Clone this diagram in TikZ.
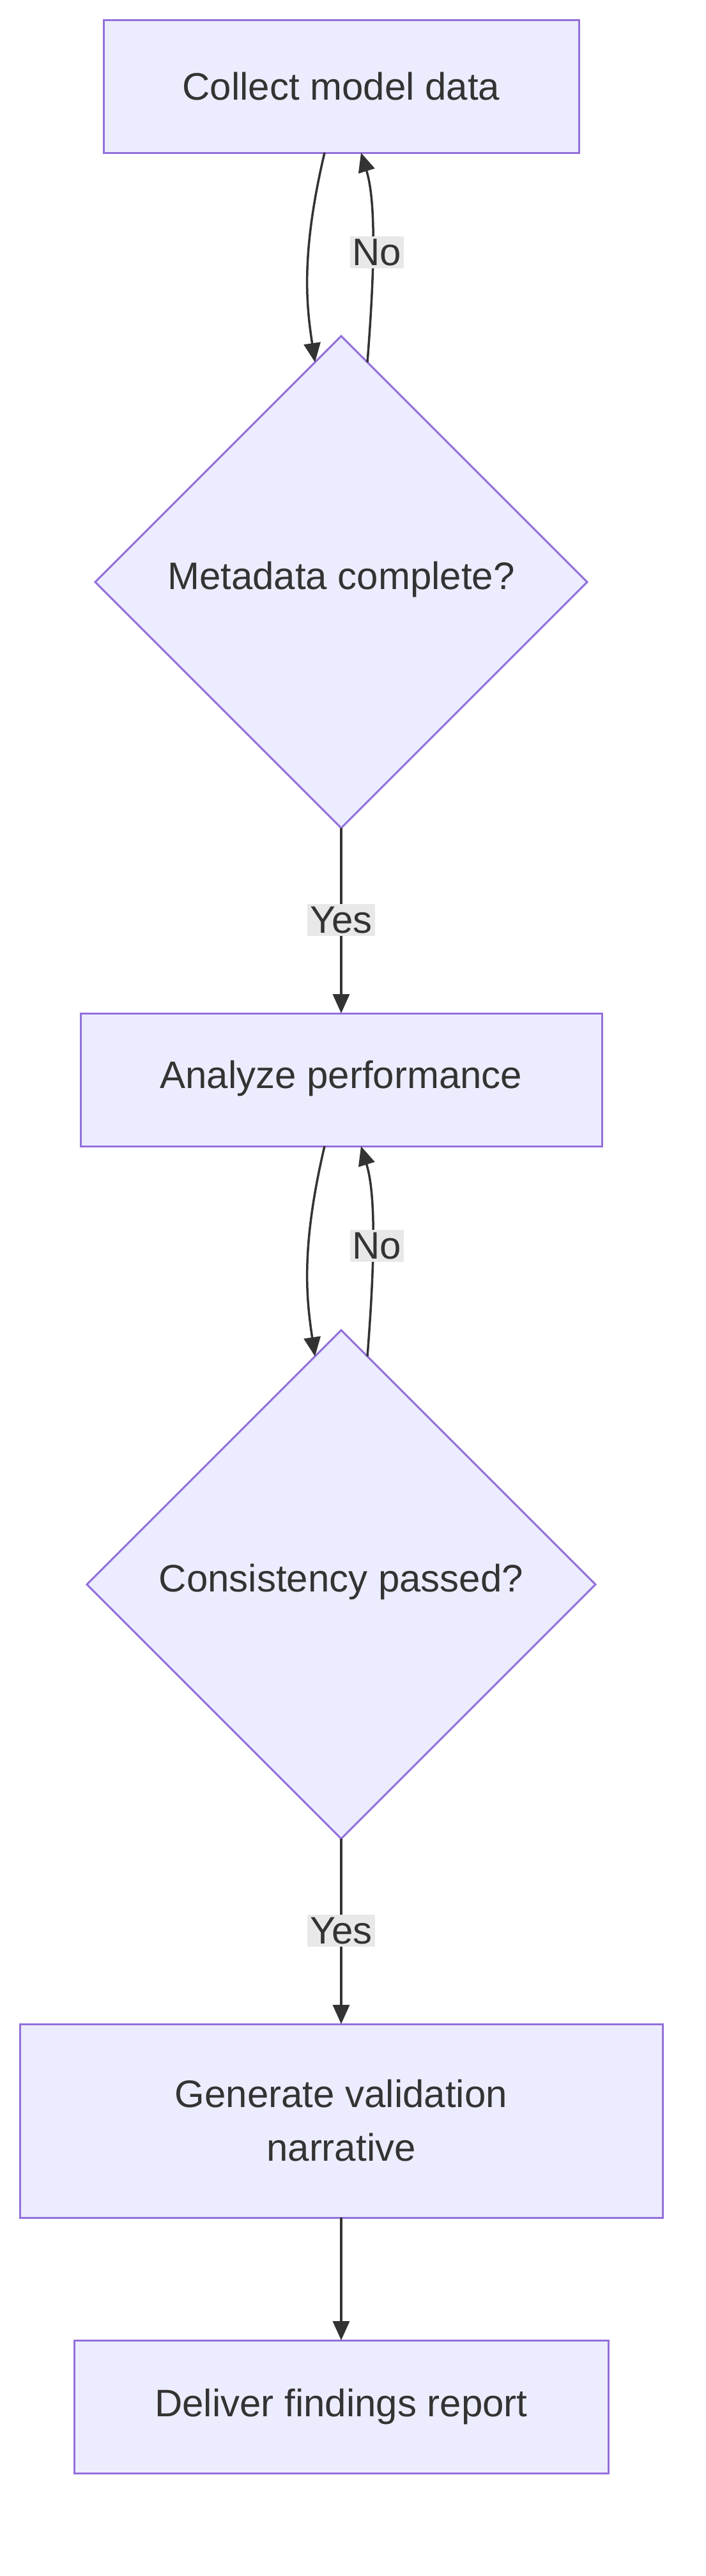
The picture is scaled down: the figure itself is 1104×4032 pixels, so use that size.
\documentclass[tikz,border=0pt]{standalone}
\usepackage{fontspec}
\setmainfont{Liberation Sans}
\usetikzlibrary{arrows.meta}
\definecolor{nf}{HTML}{ECECFF}
\definecolor{ns}{HTML}{9370DB}
\definecolor{tx}{HTML}{333333}
\definecolor{lb}{HTML}{E8E8E8}
\begin{document}
\begin{tikzpicture}[x=1pt,y=-1pt,
  box/.style={draw=ns,fill=nf,line width=3pt,text=tx,font=\fontsize{60}{84}\selectfont,align=center},
  lab/.style={fill=lb,text=tx,font=\fontsize{60}{72}\selectfont,inner sep=4pt},
  ar/.style={draw=tx,line width=3.5pt,-{Triangle[length=30pt,width=26pt]}}]
\useasboundingbox (0,0) rectangle (1104,4032);
\draw[box] (162,31) rectangle (906,239);
\node[text=tx,font=\fontsize{60}{72}\selectfont] (a) at (534,135) {Collect model data};
\coordinate (a1) at (508,239); \coordinate (a2) at (565,239);
\draw[box] (534,526) -- (919,911) -- (534,1296) -- (149,911) -- cycle;
\node[text=tx,font=\fontsize{60}{72}\selectfont] (b) at (534,907) {Metadata complete?};
\coordinate (b1) at (493,567); \coordinate (b2) at (575,567); \coordinate (bb) at (534,1296);
\draw[box] (126,1586) rectangle (942,1794);
\node[text=tx,font=\fontsize{60}{72}\selectfont] (c) at (534,1688) {Analyze performance};
\coordinate (c0) at (534,1586); \coordinate (c1) at (508,1794); \coordinate (c2) at (565,1794);
\draw[box] (534,2082) -- (932,2480) -- (534,2878) -- (136,2480) -- cycle;
\node[text=tx,font=\fontsize{60}{72}\selectfont] (d) at (534,2476) {Consistency passed?};
\coordinate (d1) at (493,2123); \coordinate (d2) at (575,2123); \coordinate (dd) at (534,2878);
\draw[box] (31,3168) rectangle (1037,3471);
\node[text=tx,font=\fontsize{60}{84}\selectfont,align=center] (e) at (534,3319) {Generate validation\\narrative};
\coordinate (e0) at (534,3168); \coordinate (e1) at (534,3471);
\draw[box] (116,3663) rectangle (952,3871);
\node[text=tx,font=\fontsize{60}{72}\selectfont] (f) at (534,3767) {Deliver findings report};
\coordinate (f0) at (534,3663);
% loops
\draw[ar] (a1) .. controls (470,400) and (480,480) .. (b1);
\draw[ar] (b2) .. controls (585,440) and (590,320) .. (a2);
\node[lab] at (590,395) {No};
\draw[ar] (c1) .. controls (470,1955) and (480,2035) .. (d1);
\draw[ar] (d2) .. controls (585,1995) and (590,1875) .. (c2);
\node[lab] at (590,1950) {No};
\draw[ar] (bb) -- (c0);
\node[lab] at (534,1440) {Yes};
\draw[ar] (dd) -- (e0);
\node[lab] at (534,3022) {Yes};
\draw[ar] (e1) -- (f0);
\end{tikzpicture}
\end{document}
